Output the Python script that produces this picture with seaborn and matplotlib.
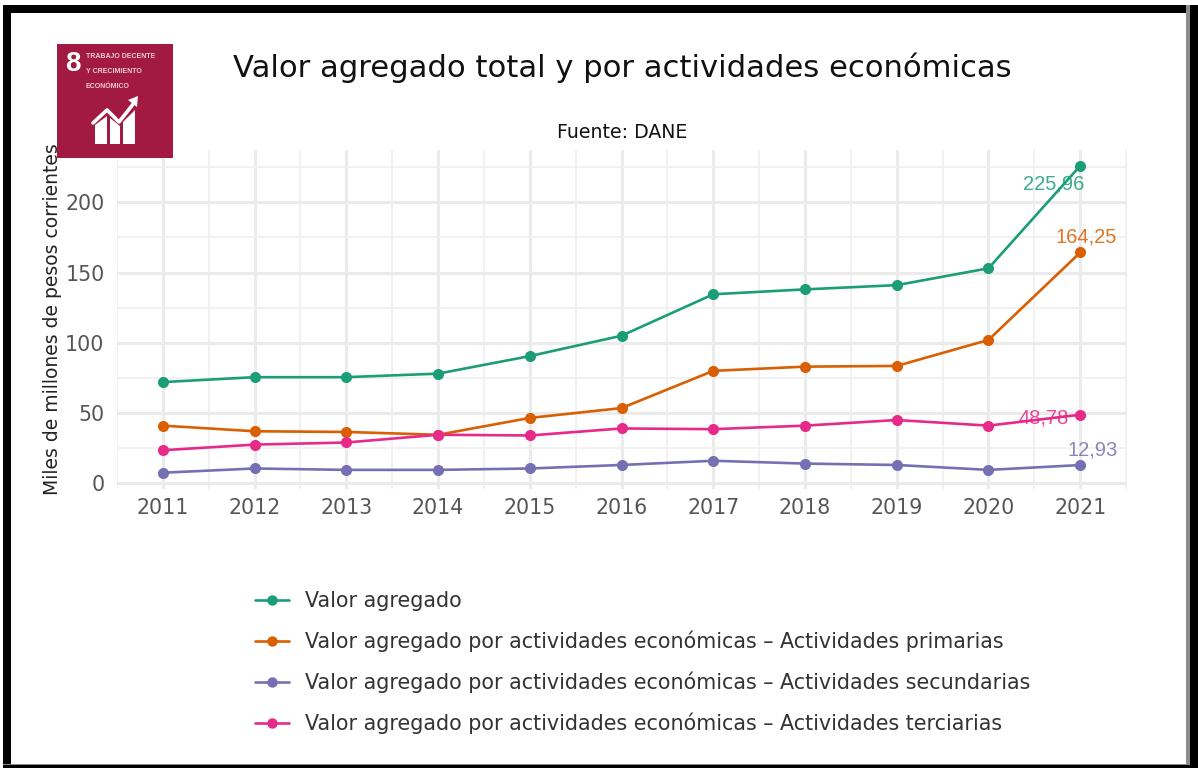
import pandas as pd
import matplotlib.pyplot as plt
import seaborn as sns
from matplotlib.patches import Rectangle, Polygon

years = [2011, 2012, 2013, 2014, 2015, 2016, 2017, 2018, 2019, 2020, 2021]
total = [72, 75.5, 75.5, 78, 90.5, 105, 134.5, 138, 141, 153, 225.96]
primarias = [41, 37, 36.5, 34.5, 46.5, 53.5, 80, 83, 83.5, 102, 164.25]
secundarias = [7.5, 10.5, 9.5, 9.5, 10.5, 13, 16, 14, 13, 9.5, 12.93]
terciarias = [23.5, 27.5, 29, 34.5, 34, 39, 38.5, 41, 45, 41, 48.78]

names = [
    "Valor agregado",
    "Valor agregado por actividades económicas – Actividades primarias",
    "Valor agregado por actividades económicas – Actividades secundarias",
    "Valor agregado por actividades económicas – Actividades terciarias",
]
colors = ["#1B9E77", "#D95F02", "#7570B3", "#E7298A"]

df = pd.DataFrame({"year": years, names[0]: total, names[1]: primarias,
                   names[2]: secundarias, names[3]: terciarias})
df = df.melt(id_vars="year", var_name="serie", value_name="valor")

W, H = 1198, 768
sns.set_theme(style="whitegrid")
plt.rcParams['font.family'] = ['DejaVu Sans']
fig = plt.figure(figsize=(W / 100, H / 100), dpi=100)
ax = fig.add_axes([117 / W, 1 - 489 / H, 1010 / W, 339 / H])

sns.lineplot(data=df, x="year", y="valor", hue="serie", hue_order=names,
             palette=colors, marker="o", markersize=8, markeredgewidth=0,
             linewidth=1.9, ax=ax, clip_on=False)

ax.set_xlim(2010.51, 2021.51)
ax.set_ylim(-4.1, 237.2)
ax.set_xticks(years)
ax.set_yticks([0, 50, 100, 150, 200])
ax.set_xticks([y + 0.5 for y in years[:-1]] + [2010.5, 2021.5], minor=True)
ax.set_yticks([25, 75, 125, 175, 225], minor=True)
ax.grid(which="major", color="#ebebeb", linewidth=2.2)
ax.grid(which="minor", color="#f0f0f0", linewidth=1.3)
ax.set_axisbelow(True)
for s in ax.spines.values():
    s.set_visible(False)
ax.tick_params(which="both", length=0, labelsize=14.8, labelcolor="#555555")
ax.tick_params(axis="x", which="major", pad=6.5)
ax.tick_params(axis="y", which="major", pad=9)
ax.set_xlabel("")
ax.set_ylabel("")

# etiquetas del último año
ax.text(2020.38, 213, "225,96", color=colors[0], fontsize=14.5, ha="left", va="center",
        family="Liberation Sans", alpha=0.85)
ax.text(2020.73, 175, "164,25", color=colors[1], fontsize=14.5, ha="left", va="center",
        family="Liberation Sans", alpha=0.85)
ax.text(2020.33, 46.5, "48,78", color=colors[3], fontsize=14.5, ha="left", va="center",
        family="Liberation Sans", alpha=0.85)
ax.text(2020.86, 24, "12,93", color=colors[2], fontsize=14.5, ha="left", va="center",
        family="Liberation Sans", alpha=0.85)

# leyenda
handles, labels = ax.get_legend_handles_labels()
for h in handles:
    h.set_markersize(7.5)
ax.legend_.remove()
fig.legend(handles, labels, loc="upper left", bbox_to_anchor=(247 / W, 1 - 583 / H),
           frameon=False, fontsize=14.85, labelspacing=0.94, handlelength=1.65,
           handletextpad=0.78, labelcolor="#333333", borderaxespad=0, borderpad=0.4)

# títulos
fig.text(622 / W, 1 - 68 / H, "Valor agregado total y por actividades económicas",
         fontsize=22.1, ha="center", va="center", color="#111111")
fig.text(622 / W, 1 - 132 / H, "Fuente: DANE", fontsize=13.6, ha="center", va="center",
         color="#111111")
fig.text(53 / W, 1 - 319 / H, "Miles de millones de pesos corrientes", fontsize=13.5,
         rotation=90, ha="center", va="center", color="#222222")


# logo ODS 8, en píxeles de la imagen
def px(x, y):
    return x / W, 1 - y / H


logo = "#A21942"
fig.add_artist(Rectangle(px(57, 158), 116 / W, 114 / H, transform=fig.transFigure,
                         facecolor=logo, edgecolor="none", zorder=5))
fig.text(*px(72.5, 64), "8", color="white", fontsize=20, fontweight="bold", ha="center",
         va="center", family="Liberation Sans", zorder=6)
for i, t in enumerate(["TRABAJO DECENTE", "Y CRECIMIENTO", "ECONÓMICO"]):
    fig.text(*px(86, 57 + 14.5 * i), t, color="#eccdd6", fontsize=5.0, ha="left", va="center",
             family="Liberation Sans", fontweight="bold", zorder=6)
for poly in ([(95, 144), (95, 125), (107, 116), (107, 144)],
             [(110, 144), (110, 118), (120, 126), (120, 144)],
             [(123, 144), (123, 122), (135, 110), (135, 144)]):
    fig.add_artist(Polygon([px(*p) for p in poly], transform=fig.transFigure,
                           facecolor="white", edgecolor="none", zorder=6))
fig.add_artist(plt.Line2D(*zip(*[px(*p) for p in [(93, 123), (107, 110), (119, 122), (134, 103)]]),
                          transform=fig.transFigure, color="white", linewidth=2.6, zorder=7))
fig.add_artist(Polygon([px(*p) for p in [(128, 100), (138, 96), (137, 107)]],
                       transform=fig.transFigure, facecolor="white", edgecolor="none", zorder=7))

# marco negro
frame = [(3, 5, 1195, 8, "black"), (3, 5, 8, 763, "black"), (1186, 5, 4, 760, "#8c8c8c"),
         (1190, 5, 8, 763, "black"), (3, 764, 1187, 1, "#8c8c8c"), (3, 765, 1195, 3, "black")]
for x, y, w, h, c in frame:
    fig.add_artist(Rectangle((x / W, 1 - (y + h) / H), w / W, h / H, transform=fig.transFigure,
                             facecolor=c, edgecolor="none", zorder=10))

fig.savefig("out.png", dpi=100)
